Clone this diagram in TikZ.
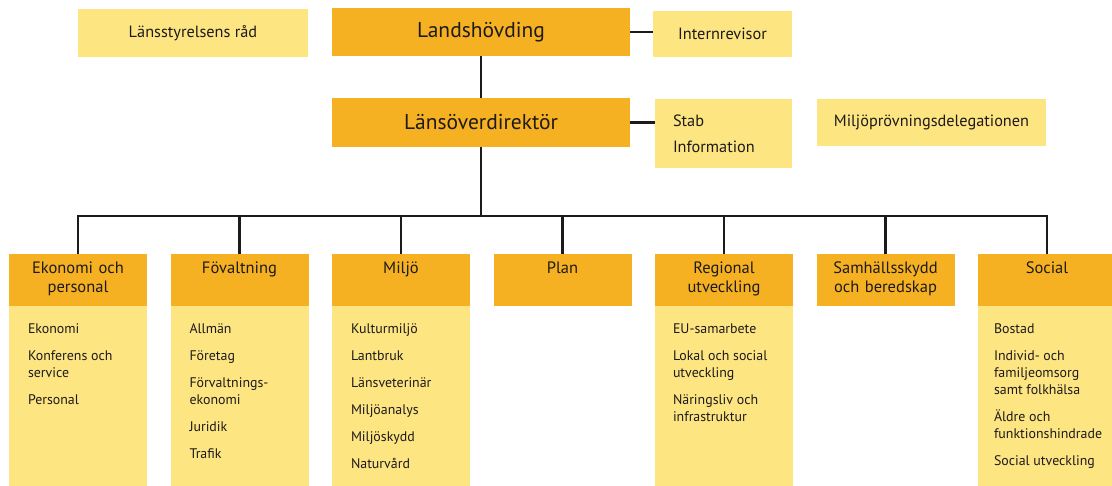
\documentclass[tikz,border=0pt]{standalone}
\usepackage{fontspec}
\setmainfont{PT Sans}
\usetikzlibrary{positioning}
\definecolor{darkbox}{RGB}{246,177,35}
\definecolor{lightbox}{RGB}{253,229,130}
\definecolor{inkline}{RGB}{30,26,27}

\begin{document}
\begin{tikzpicture}[x=1pt,y=-1pt,node distance=161.5pt,on grid,
    orgbox/.style={rectangle,inner sep=0pt,text=inkline},
    topbox/.style={orgbox,fill=darkbox,minimum width=298pt,minimum height=48pt,font=\fontsize{21.5}{26}\selectfont},
    sidebox/.style={orgbox,fill=lightbox,font=\fontsize{16.3}{19}\selectfont},
    head/.style={orgbox,fill=darkbox,minimum width=138pt,minimum height=52pt,text width=126pt,align=center,font=\fontsize{16.5}{19}\selectfont},
    body/.style={orgbox,fill=lightbox,minimum width=138pt,minimum height=180pt},
    items/.style={orgbox,anchor=north west,align=left,font=\fontsize{13.9}{17}\selectfont},
    link/.style={draw=inkline,line width=2.6pt}]
  \useasboundingbox (0,0) rectangle (1112,485);

  % top of the organisation
  \node[topbox] (lh) at (481,32) {Landshövding};
  \node[topbox,minimum height=49pt] (lod) at (481,122.5) {Länsöverdirektör};
  \node[sidebox,minimum width=230pt,minimum height=48pt] (rad) at (193,33) {Länsstyrelsens råd};
  \node[sidebox,minimum width=139pt,minimum height=46pt] (intrev) at (722.5,34) {Internrevisor};
  \node[sidebox,minimum height=69pt,text width=101pt,inner xsep=18pt,align=left] (stab) at (723.5,133.5) {Stab\\[7pt]Information};
  \node[sidebox,minimum width=229pt,minimum height=47pt] (mpd) at (931.5,122.5) {Miljöprövningsdelegationen};

  % departments
  \node[head] (eko) at (78,280) {Ekonomi och\\personal\strut};
  \node[head,right=of eko] (fov) {Fövaltning\\\strut};
  \node[head,right=of fov] (milj) {Miljö\\\strut};
  \node[head,right=of milj] (plan) {Plan\\\strut};
  \node[head,right=of plan] (reg) {Regional\\utveckling\strut};
  \node[head,right=of reg] (samh) {Samhällsskydd\\och beredskap\strut};
  \node[head,right=of samh] (soc) {Social\\\strut};

  \node[body,below=116pt of eko] (ekoB) {};
  \node[body,below=116pt of fov] (fovB) {};
  \node[body,below=116pt of milj] (miljB) {};
  \node[body,below=116pt of reg] (regB) {};
  \node[body,below=116pt of soc] (socB) {};

  \node[items] (ekoT) at ([xshift=19pt,yshift=-18pt]ekoB.north west)
    {Ekonomi\\[10pt]Konferens och\\service\\[10pt]Personal};
  \node[items] (fovT) at ([xshift=19pt,yshift=-18pt]fovB.north west)
    {Allmän\\[10pt]Företag\\[10pt]Förvaltnings-\\ekonomi\\[10pt]Juridik\\[10pt]Trafik};
  \node[items] (miljT) at ([xshift=19pt,yshift=-18pt]miljB.north west)
    {Kulturmiljö\\[10pt]Lantbruk\\[10pt]Länsveterinär\\[10pt]Miljöanalys\\[10pt]Miljöskydd\\[10pt]Naturvård};
  \node[items] (regT) at ([xshift=18pt,yshift=-18pt]regB.north west)
    {EU-samarbete\\[10pt]Lokal och social\\utveckling\\[10pt]Näringsliv och\\infrastruktur};
  \node[items] (socT) at ([xshift=16pt,yshift=-18pt]socB.north west)
    {Bostad\\[10pt]Individ- och\\familjeomsorg\\samt folkhälsa\\[10pt]Äldre och\\funktionshindrade\\[10pt]Social utveckling};

  % lines
  \coordinate (bus) at (481,216);
  \draw[link] (lh) -- (lod);
  \draw[link] (lh.east) -- (lh.east -| intrev.west);
  \draw[link] (lod.east) -- (lod.east -| stab.west);
  \draw[link] (lod.south) -- (bus);
  \draw[link] (eko.north) -- (eko.north |- bus) -- (soc.north |- bus) -- (soc.north);
  \foreach \dep in {fov,milj,plan,reg,samh}
    \draw[link] (\dep.north |- bus) -- (\dep.north);
\end{tikzpicture}
\end{document}
